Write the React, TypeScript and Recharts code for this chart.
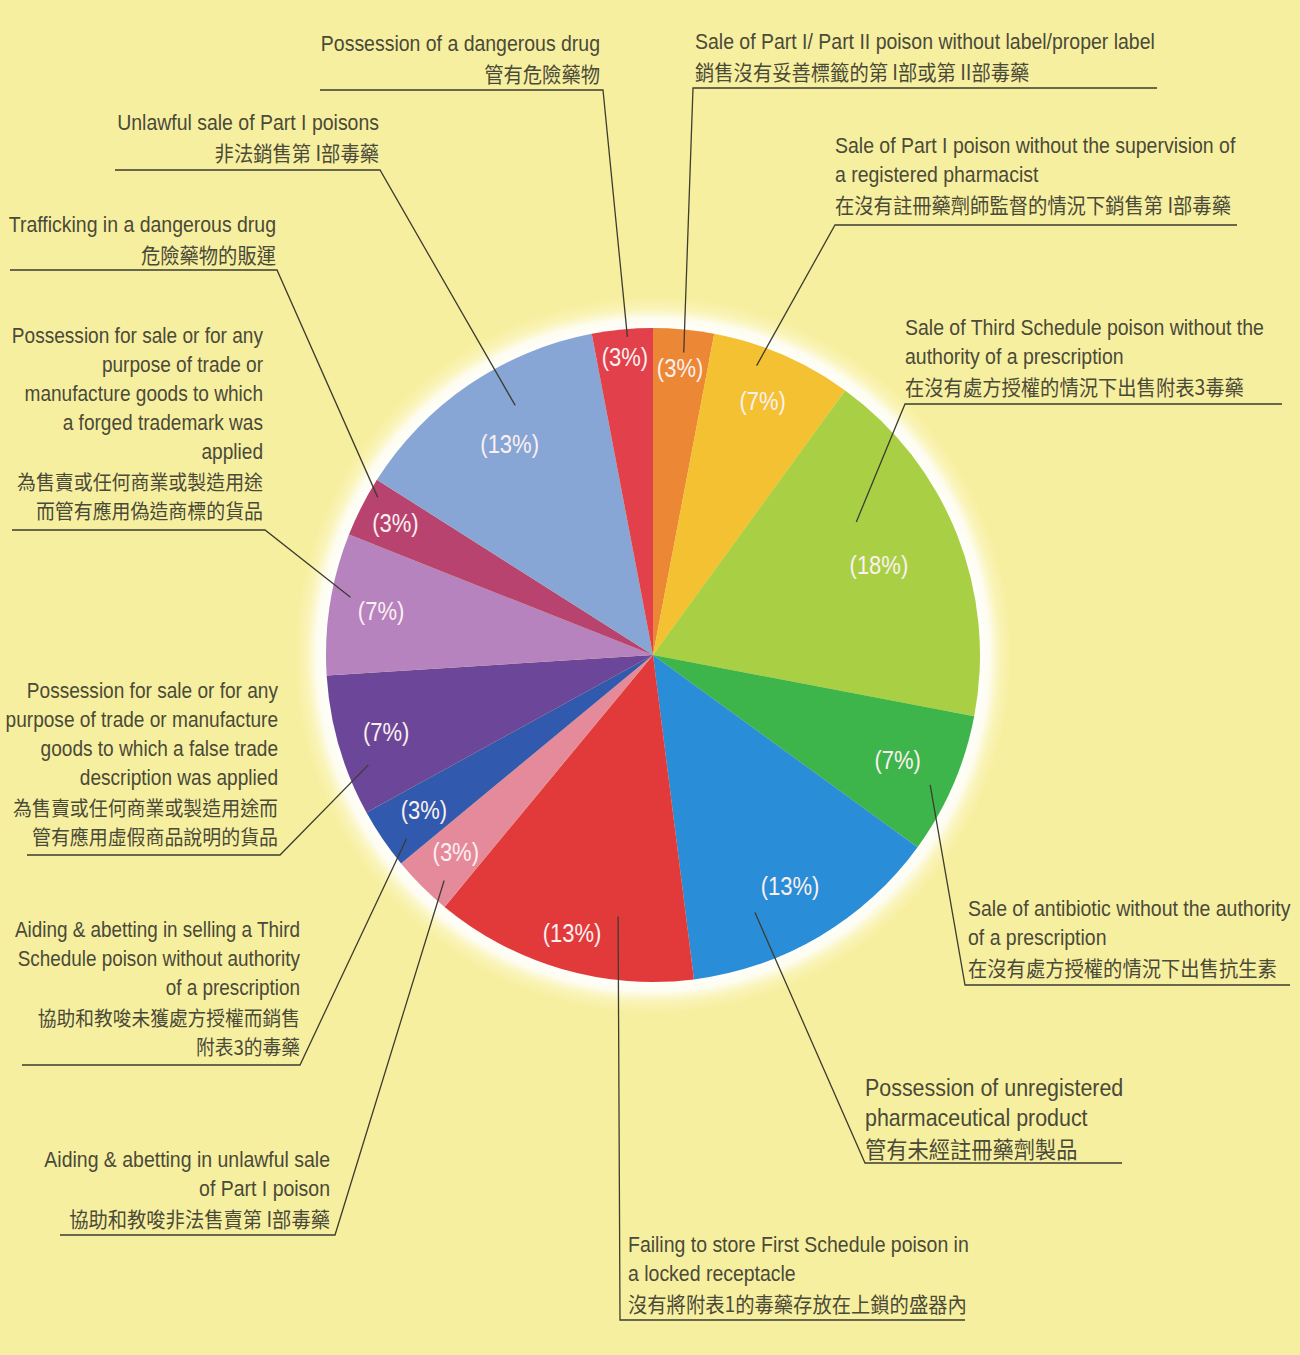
import React from "react";
import { PieChart, Pie, Cell } from "recharts";

// offences, clockwise from 12 o'clock
const offences = [
  "Sale of Part I/ Part II poison without label/proper label",
  "Sale of Part I poison without the supervision of a registered pharmacist",
  "Sale of Third Schedule poison without the authority of a prescription",
  "Sale of antibiotic without the authority of a prescription",
  "Possession of unregistered pharmaceutical product",
  "Failing to store First Schedule poison in a locked receptacle",
  "Aiding & abetting in unlawful sale of Part I poison",
  "Aiding & abetting in selling a Third Schedule poison without authority of a prescription",
  "Possession for sale ... false trade description was applied",
  "Possession for sale ... forged trademark was applied",
  "Trafficking in a dangerous drug",
  "Unlawful sale of Part I poisons",
  "Possession of a dangerous drug",
];

const shares = [3, 7, 18, 7, 13, 13, 3, 3, 7, 7, 3, 13, 3];

const enLines = [
  ["Sale of Part I/ Part II poison without label/proper label"],
  ["Sale of Part I poison without the supervision of", "a registered pharmacist"],
  ["Sale of Third Schedule poison without the", "authority of a prescription"],
  ["Sale of antibiotic without the authority", "of a prescription"],
  ["Possession of unregistered", "pharmaceutical product"],
  ["Failing to store First Schedule poison in", "a locked receptacle"],
  ["Aiding & abetting in unlawful sale", "of Part I poison"],
  ["Aiding & abetting in selling a Third", "Schedule poison without authority", "of a prescription"],
  ["Possession for sale or for any", "purpose of trade or manufacture", "goods to which a false trade", "description was applied"],
  ["Possession for sale or for any", "purpose of trade or", "manufacture goods to which", "a forged trademark was", "applied"],
  ["Trafficking in a dangerous drug"],
  ["Unlawful sale of Part I poisons"],
  ["Possession of a dangerous drug"],
];

const zhLines = [
  ["銷售沒有妥善標籤的第 I部或第 II部毒藥"],
  ["在沒有註冊藥劑師監督的情況下銷售第 I部毒藥"],
  ["在沒有處方授權的情況下出售附表3毒藥"],
  ["在沒有處方授權的情況下出售抗生素"],
  ["管有未經註冊藥劑製品"],
  ["沒有將附表1的毒藥存放在上鎖的盛器內"],
  ["協助和教唆非法售賣第 I部毒藥"],
  ["協助和教唆未獲處方授權而銷售", "附表3的毒藥"],
  ["為售賣或任何商業或製造用途而", "管有應用虛假商品說明的貨品"],
  ["為售賣或任何商業或製造用途", "而管有應用偽造商標的貨品"],
  ["危險藥物的販運"],
  ["非法銷售第 I部毒藥"],
  ["管有危險藥物"],
];

const COLORS = [
  "#ec8736", "#f3c132", "#a9d045", "#3db54b", "#2a8dd7", "#e23a3b", "#e58a9b",
  "#3159ad", "#6c4799", "#b683bf", "#b9436f", "#87a6d6", "#e2414b",
];

// label layout: text anchor x, first baseline, underline [x1, x2, y], which end joins the leader,
// leader start radius fraction + angle tweak (deg clockwise), percent label radius fraction, font scale
const LAYOUT = [
  { anchor: "start", x: 695, y: 49, ul: [693, 1157, 88], join: 0, dr: 0.93, da: 0.4, pr: 0.88, fs: 1 },
  { anchor: "start", x: 835, y: 153, ul: [835, 1237, 225], join: 0, dr: 0.94, da: -3.7, pr: 0.845, fs: 1 },
  { anchor: "start", x: 905, y: 335, ul: [905, 1282, 404], join: 0, dr: 0.743, da: -11.6, pr: 0.743, fs: 1 },
  { anchor: "start", x: 968, y: 916, ul: [965, 1290, 985], join: 0, dr: 0.936, da: 1.7, pr: 0.815, fs: 1 },
  { anchor: "start", x: 865, y: 1096, ul: [865, 1122, 1163], join: 0, dr: 0.847, da: 9, pr: 0.823, fs: 1.1 },
  { anchor: "start", x: 628, y: 1252, ul: [620, 965, 1320], join: 0, dr: 0.807, da: -8.6, pr: 0.887, fs: 1 },
  { anchor: "end", x: 330, y: 1167, ul: [60, 335, 1235], join: 1, dr: 0.94, da: -2.2, pr: 0.853, fs: 1 },
  { anchor: "end", x: 300, y: 937, ul: [22, 300, 1065], join: 1, dr: 0.94, da: -2.5, pr: 0.847, fs: 0.97 },
  { anchor: "end", x: 278, y: 698, ul: [27, 280, 855], join: 1, dr: 0.933, da: -4.9, pr: 0.85, fs: 0.98 },
  { anchor: "end", x: 263, y: 343, ul: [12, 265, 530], join: 1, dr: 0.942, da: 1.8, pr: 0.842, fs: 0.98 },
  { anchor: "end", x: 276, y: 232, ul: [10, 277, 270], join: 1, dr: 0.97, da: 2.8, pr: 0.884, fs: 1 },
  { anchor: "end", x: 379, y: 130, ul: [115, 380, 170], join: 1, dr: 0.872, da: 5.3, pr: 0.78, fs: 1 },
  { anchor: "end", x: 600, y: 51, ul: [320, 603, 90], join: 1, dr: 0.976, da: 0.8, pr: 0.915, fs: 1 },
];

const FONT = "'Liberation Sans', Arial, sans-serif";
const ZH_FONT = "'Noto Sans CJK TC', sans-serif";
const TEXT = "#4a4a38";
const RAD = Math.PI / 180;

const data = offences.map((name, i) => ({ name, value: shares[i] }));
const ring = [{ name: "glow", value: 1 }];

// condensed text: the reference uses a narrow face
function Narrow({ x, y, sx, anchor, size, family, fill, baseline, children }: any) {
  return (
    <text
      transform={`translate(${x} ${y}) scale(${sx} 1)`}
      textAnchor={anchor}
      dominantBaseline={baseline}
      fontSize={size}
      fontFamily={family}
      fill={fill}
    >
      {children}
    </text>
  );
}

function renderLabel(props: any) {
  const { cx, cy, midAngle, outerRadius, index } = props;
  const L = LAYOUT[index];
  const pa = midAngle * RAD;
  const px = cx + outerRadius * L.pr * Math.cos(-pa);
  const py = cy + outerRadius * L.pr * Math.sin(-pa);
  const la = (midAngle - L.da) * RAD;
  const sx = cx + outerRadius * L.dr * Math.cos(-la);
  const sy = cy + outerRadius * L.dr * Math.sin(-la);
  const [x1, x2, uy] = L.ul;
  const jx = L.join === 0 ? x1 : x2;
  const en = enLines[index];
  const zh = zhLines[index];
  const lh = 29 * (L.fs > 1 ? 1.03 : 1);
  return (
    <g key={`lbl-${index}`}>
      <Narrow x={px} y={py} sx={0.88} anchor="middle" baseline="central" size={25} family={FONT} fill="#fcf0f0">
        {`(${shares[index]}%)`}
      </Narrow>
      <polyline
        points={`${sx},${sy} ${jx},${uy} ${jx === x1 ? x2 : x1},${uy}`}
        fill="none"
        stroke="#3d3d30"
        strokeWidth={1.3}
      />
      {en.map((t, k) => (
        <Narrow key={`en${k}`} x={L.x} y={L.y + k * lh} sx={0.885} anchor={L.anchor} size={22 * L.fs} family={FONT} fill={TEXT}>
          {t}
        </Narrow>
      ))}
      {zh.map((t, k) => (
        <Narrow
          key={`zh${k}`}
          x={L.x}
          y={L.y + (en.length + k) * lh + 2}
          sx={0.92}
          anchor={L.anchor}
          size={21 * L.fs}
          family={ZH_FONT}
          fill={TEXT}
        >
          {t}
        </Narrow>
      ))}
    </g>
  );
}

export default function App() {
  return (
    <div style={{ position: "absolute", left: 0, top: 0, width: 1300, height: 1355, background: "#f7efa0" }}>
      <svg width={0} height={0} style={{ position: "absolute" }}>
        <defs>
          <radialGradient id="glow" cx="50%" cy="50%" r="50%">
            <stop offset="0.9" stopColor="#ffffff" stopOpacity={1} />
            <stop offset="0.94" stopColor="#ffffff" stopOpacity={0.85} />
            <stop offset="0.97" stopColor="#fffbe0" stopOpacity={0.35} />
            <stop offset="1" stopColor="#fffbe0" stopOpacity={0} />
          </radialGradient>
        </defs>
      </svg>
      <PieChart width={1300} height={1355} margin={{ top: 0, right: 0, bottom: 0, left: 0 }}>
        <Pie
          data={ring}
          dataKey="value"
          cx={653}
          cy={655}
          innerRadius={300}
          outerRadius={358}
          startAngle={90}
          endAngle={-270}
          fill="url(#glow)"
          stroke="none"
          isAnimationActive={false}
        />
        <Pie
          data={data}
          dataKey="value"
          nameKey="name"
          cx={653}
          cy={655}
          outerRadius={327}
          startAngle={90}
          endAngle={-270}
          stroke="none"
          label={renderLabel}
          labelLine={false}
          isAnimationActive={false}
        >
          {data.map((_, i) => (
            <Cell key={i} fill={COLORS[i]} />
          ))}
        </Pie>
      </PieChart>
    </div>
  );
}
